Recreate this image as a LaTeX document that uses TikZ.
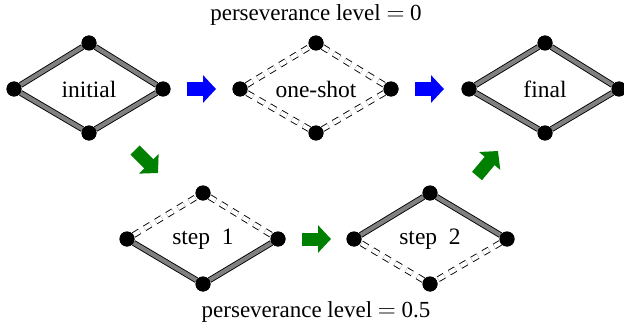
\documentclass[tikz,border=0pt]{standalone}
\usepackage{fontspec}
\setmainfont{Liberation Serif}
\usetikzlibrary{arrows.meta}
\tikzset{
  dot/.style={circle, fill=black, inner sep=0pt, minimum size=15pt},
  solidedge/.style={draw=black, line width=0.9pt, double=gray, double distance=4.2pt},
  hollowedge/.style={draw=black, line width=0.9pt, double=white, double distance=4.2pt, dash pattern=on 7pt off 6pt},
  stagelabel/.style={font=\fontsize{23.5}{26}\selectfont},
  caption/.style={font=\fontsize{23}{26}\selectfont},
  bigarrow/.style={line width=13pt, -{Triangle[length=13pt,width=27pt]}},
}
\begin{document}
\begin{tikzpicture}[x=1pt,y=-1pt]
\useasboundingbox (0,0) rectangle (624,329);

% stage "initial"
\node[dot] (iL) at (14,89) {};
\node[dot] (iT) at (89,43) {};
\node[dot] (iR) at (163,89) {};
\node[dot] (iB) at (89,133) {};
\node[stagelabel] (iLab) at (89,89) {initial};

% stage "one-shot"
\node[dot] (oL) at (240,89) {};
\node[dot] (oT) at (316,43) {};
\node[dot] (oR) at (391,89) {};
\node[dot] (oB) at (316,133) {};
\node[stagelabel] (oLab) at (316,89) {one-shot};

% stage "final"
\node[dot] (fL) at (469,89) {};
\node[dot] (fT) at (545,43) {};
\node[dot] (fR) at (619,89) {};
\node[dot] (fB) at (545,133) {};
\node[stagelabel] (fLab) at (545,89) {final};

% stage "step 1"
\node[dot] (aL) at (127,239) {};
\node[dot] (aT) at (203,193) {};
\node[dot] (aR) at (278,239) {};
\node[dot] (aB) at (203,284) {};
\node[stagelabel] (aLab) at (203,239) {step\ \ 1};

% stage "step 2"
\node[dot] (bL) at (354,239) {};
\node[dot] (bT) at (430,193) {};
\node[dot] (bR) at (507,239) {};
\node[dot] (bB) at (430,284) {};
\node[stagelabel] (bLab) at (430,239) {step\ \ 2};

% edges
\draw[solidedge] (iL) -- (iT) -- (iR) -- (iB) -- (iL);
\draw[hollowedge] (oL) -- (oT);
\draw[hollowedge] (oT) -- (oR);
\draw[hollowedge] (oR) -- (oB);
\draw[hollowedge] (oB) -- (oL);
\draw[solidedge] (fL) -- (fT) -- (fR) -- (fB) -- (fL);
\draw[hollowedge] (aL) -- (aT);
\draw[hollowedge] (aT) -- (aR);
\draw[solidedge] (aR) -- (aB) -- (aL);
\draw[solidedge] (bL) -- (bT) -- (bR);
\draw[hollowedge] (bR) -- (bB);
\draw[hollowedge] (bB) -- (bL);

% dots drawn over the edge ends
\foreach \n in {iL,iT,iR,iB,oL,oT,oR,oB,fL,fT,fR,fB,aL,aT,aR,aB,bL,bT,bR,bB}
  \fill (\n) circle (7.5pt);

% transition arrows
\coordinate (b1s) at (187,89);  \coordinate (b1e) at (216,89);
\coordinate (b2s) at (415,89);  \coordinate (b2e) at (444,89);
\coordinate (g1s) at (135,150); \coordinate (g1e) at (158,173);
\coordinate (g2s) at (302,239); \coordinate (g2e) at (331,239);
\coordinate (g3s) at (477,176); \coordinate (g3e) at (498,151);
\draw[bigarrow, blue] (b1s) -- (b1e);
\draw[bigarrow, blue] (b2s) -- (b2e);
\draw[bigarrow, green!50!black] (g1s) -- (g1e);
\draw[bigarrow, green!50!black] (g2s) -- (g2e);
\draw[bigarrow, green!50!black] (g3s) -- (g3e);

% captions
\node[caption] (capTop) at (316,15) {perseverance level $=$ 0};
\node[caption] (capBot) at (316,312) {perseverance level $=$ 0.5};
\end{tikzpicture}
\end{document}
